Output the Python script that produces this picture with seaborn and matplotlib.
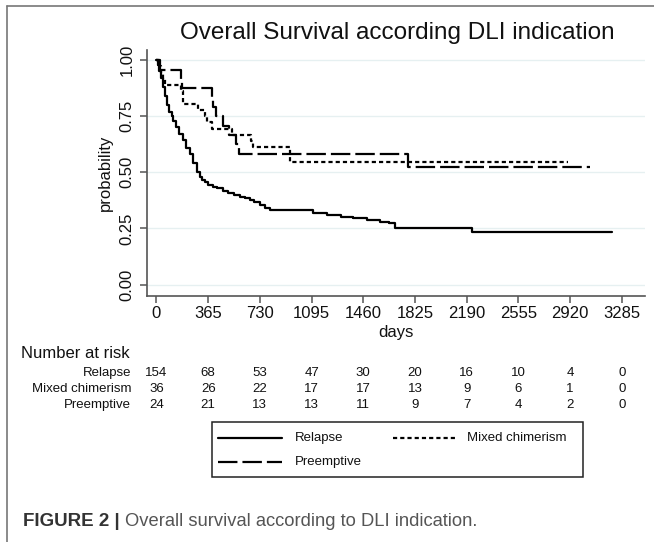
import numpy as np
import pandas as pd
import seaborn as sns
import matplotlib
matplotlib.use("Agg")
import matplotlib.pyplot as plt
import matplotlib.transforms as mtrans
from matplotlib.lines import Line2D
from matplotlib.patches import Rectangle


# curvas de Kaplan-Meier (dias, sobrevida)
relapse_days = [0, 10, 20, 30, 45, 60, 75, 90, 107, 118, 140, 160, 189, 210, 235, 260, 285, 307, 319, 340,
                365, 400, 425, 470, 507, 550, 590, 625, 660, 690, 731, 765, 801, 1107, 1202, 1300, 1390,
                1484, 1580, 1640, 1684, 2225, 3213]
relapse_surv = [1.0, 0.98, 0.95, 0.92, 0.88, 0.84, 0.80, 0.77, 0.75, 0.73, 0.70, 0.67, 0.644, 0.61, 0.58, 0.54,
                0.50, 0.48, 0.466, 0.455, 0.445, 0.436, 0.429, 0.418, 0.406, 0.398, 0.391, 0.384, 0.377, 0.370,
                0.354, 0.343, 0.332, 0.318, 0.31, 0.302, 0.295, 0.287, 0.280, 0.273, 0.25, 0.236, 0.236]

mixed_days = [0, 15, 30, 45, 60, 175, 185, 190, 290, 340, 360, 390, 530, 665, 680, 940, 2905]
mixed_surv = [1.0, 0.972, 0.944, 0.917, 0.889, 0.861, 0.833, 0.806, 0.778, 0.750, 0.722, 0.694, 0.667,
              0.639, 0.611, 0.547, 0.547]

pre_days = [0, 25, 170, 180, 390, 400, 420, 470, 510, 560, 580, 1778, 3062]
pre_surv = [1.0, 0.958, 0.917, 0.875, 0.833, 0.792, 0.750, 0.708, 0.667, 0.625, 0.583, 0.525, 0.525]

# numero em risco
risk_times = [0, 365, 730, 1095, 1460, 1825, 2190, 2555, 2920, 3285]
risk_relapse = [154, 68, 53, 47, 30, 20, 16, 10, 4, 0]
risk_mixed = [36, 26, 22, 17, 17, 13, 9, 6, 1, 0]
risk_pre = [24, 21, 13, 13, 11, 9, 7, 4, 2, 0]

groups = ["Relapse", "Mixed chimerism", "Preemptive"]
y_ticks = [0.0, 0.25, 0.50, 0.75, 1.00]

df = pd.concat([
    pd.DataFrame({"days": relapse_days, "prob": relapse_surv, "grupo": "Relapse"}),
    pd.DataFrame({"days": mixed_days, "prob": mixed_surv, "grupo": "Mixed chimerism"}),
    pd.DataFrame({"days": pre_days, "prob": pre_surv, "grupo": "Preemptive"}),
])

sns.set_theme(style="white")
plt.rcParams["font.family"] = ["Liberation Sans", "DejaVu Sans"]
plt.rcParams["lines.scale_dashes"] = False

dash_map = {"Relapse": "", "Mixed chimerism": (3, 2.2), "Preemptive": (14, 3.6)}

fig = plt.figure(figsize=(6.54, 5.42), dpi=100)
ax = fig.add_axes([147 / 654, 1 - 296 / 542, 498 / 654, 246 / 542])

for y in y_ticks:
    ax.axhline(y, color="#e6f0f1", lw=1.0, zorder=0)

sns.lineplot(data=df, x="days", y="prob", style="grupo", dashes=dash_map, color="black",
             drawstyle="steps-post", estimator=None, sort=False, lw=1.6, legend=False, ax=ax)

ax.set_xlim(-67, 3449)
ax.set_ylim(-0.051, 1.045)
ax.set_xticks(risk_times)
ax.set_yticks(y_ticks)
ax.set_yticklabels([f"{v:.2f}" for v in y_ticks])
for s in ["top", "right"]:
    ax.spines[s].set_visible(False)
for s in ["left", "bottom"]:
    ax.spines[s].set_color("#555555")
    ax.spines[s].set_linewidth(1.2)
ax.tick_params(axis="both", direction="out", length=5, width=1.1, color="#555555",
               labelsize=12, labelcolor="#111111", left=True, bottom=True)
ax.tick_params(axis="x", pad=2)
ax.tick_params(axis="y", labelrotation=90, pad=4)
for lab in ax.get_yticklabels():
    lab.set_va("center")
ax.grid(False)

ax.set_xlabel("days", fontsize=12, color="#111111")
ax.xaxis.set_label_coords(0.5, -0.118)
ax.set_ylabel("probability", fontsize=12, color="#111111")
ax.yaxis.set_label_coords(-0.068, 0.5)

fig.text(397 / 654, 1 - 33 / 542, "Overall Survival according DLI indication",
         ha="center", va="center", fontsize=17.5, color="#111111")

# tabela de numero em risco
fig.text(21 / 654, 1 - 354 / 542, "Number at risk", ha="left", va="center", fontsize=12, color="#111111")
blend = mtrans.blended_transform_factory(ax.transData, fig.transFigure)
rows = [risk_relapse, risk_mixed, risk_pre]
row_y = [373, 389, 405]
for nome, vals, ypx in zip(groups, rows, row_y):
    yf = 1 - ypx / 542
    fig.text(131 / 654, yf, nome, ha="right", va="center", fontsize=9.5, color="#111111")
    for t, n in zip(risk_times, vals):
        ax.text(t, yf, str(n), transform=blend, ha="center", va="center", fontsize=9.5,
                color="#111111", clip_on=False)

# legenda desenhada na figura
fig.patches.append(Rectangle((212 / 654, 1 - 477 / 542), 371 / 654, 55 / 542, transform=fig.transFigure,
                             fill=False, edgecolor="#222222", lw=1.1))
leg_items = [("Relapse", 218, 282, 295, 438), ("Mixed chimerism", 393, 455, 467, 438),
             ("Preemptive", 218, 282, 295, 462)]
for nome, x0, x1, xt, ypx in leg_items:
    yf = 1 - ypx / 542
    ln = Line2D([x0 / 654, x1 / 654], [yf, yf], transform=fig.transFigure, color="black", lw=1.6)
    if dash_map[nome]:
        ln.set_dashes(dash_map[nome])
    fig.lines.append(ln)
    fig.text(xt / 654, yf, nome, ha="left", va="center", fontsize=9.5, color="#111111")

# moldura e legenda da figura
fig.lines.append(Line2D([7 / 654, 7 / 654], [0, 1 - 6 / 542], transform=fig.transFigure,
                        color="#777777", lw=1.2))
fig.lines.append(Line2D([7 / 654, 1], [1 - 6 / 542, 1 - 6 / 542], transform=fig.transFigure,
                        color="#777777", lw=1.2))
t1 = fig.text(23 / 654, 1 - 521 / 542, "FIGURE 2 | ", ha="left", va="center", fontsize=13.5,
              fontweight="bold", color="#333333")
fig.canvas.draw()
bb = t1.get_window_extent()
fig.text(bb.x1 / 654, 1 - 521 / 542, "Overall survival according to DLI indication.", ha="left",
         va="center", fontsize=13.2, color="#555555")

fig.savefig("out.png", dpi=100)
